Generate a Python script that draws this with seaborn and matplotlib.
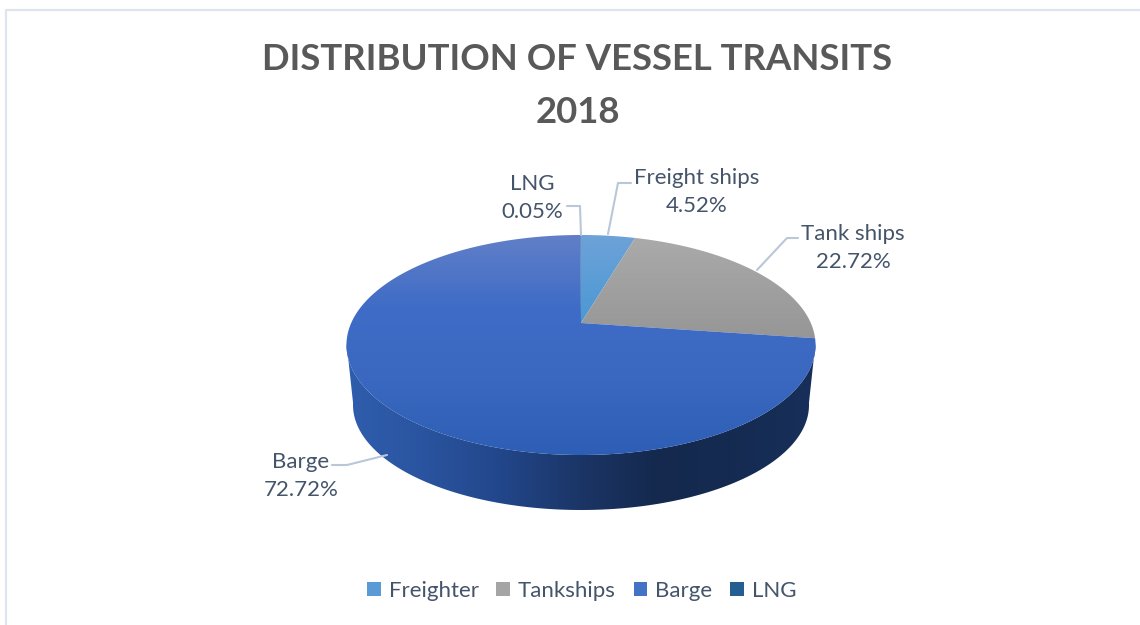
import numpy as np
import matplotlib
matplotlib.use("Agg")
import matplotlib.pyplot as plt
from matplotlib.colors import LinearSegmentedColormap
from matplotlib.patches import Patch, Polygon
import seaborn as sns

title_lines = ["DISTRIBUTION OF VESSEL TRANSITS", "2018"]
legend_names = ["Freighter", "Tankships", "Barge", "LNG"]
label_names = ["Freight ships", "Tank ships", "Barge", "LNG"]
shares = [4.52, 22.72, 72.72, 0.05]
legend_colors = ["#5b9bd5", "#a5a5a5", "#4472c4", "#255e91"]

sns.set_theme(style="white")
plt.rcParams["font.family"] = ["Lato", "DejaVu Sans"]

W, H = 1140, 625
fig = plt.figure(figsize=(W / 100, H / 100), dpi=100)
ax = fig.add_axes([0, 0, 1, 1])

# perspective disc layout (pixels)
APEX = (581, 323)
A, B, K = 229.8, 105.6, 0.2


def disc(theta):
    """Clockwise from 12 o'clock, circle -> tilted perspective view."""
    X, Y = np.sin(theta), np.cos(theta)
    d = 1 + K * Y
    return APEX[0] + A * X / d, APEX[1] - B * Y / d


def grad(colors, extent, vertical=True):
    cmap = LinearSegmentedColormap.from_list("g", sns.blend_palette(colors, 64))
    g = np.linspace(0, 1, 256)
    arr = g[:, None] if vertical else g[None, :]
    return ax.imshow(arr, cmap=cmap, extent=extent, aspect="auto",
                     origin="upper", zorder=2, interpolation="bilinear")


# side wall
t = np.linspace(-np.pi / 2 - 0.02, np.pi / 2 + 0.02, 200)
top_x = 581 + 234.5 * np.sin(t)
top_y = 345 + 110 * np.cos(t)
bot_x = 581 + 228 * np.sin(t)
bot_y = 405 + 105 * np.cos(t)
wall = np.r_[np.c_[top_x, top_y], np.c_[bot_x, bot_y][::-1]]
wall_poly = Polygon(wall, closed=True, transform=ax.transData, fc="none", ec="none")
ax.add_patch(wall_poly)
im = grad(["#2f5eae", "#2a549f", "#22468a", "#1b3566", "#14294d", "#152b52", "#172f5a"],
          (345, 816, 520, 340), vertical=False)
im.set_clip_path(wall_poly)

# top face, one gradient wedge per share
fractions = np.array(shares) / np.sum(shares)
edges = np.r_[0, np.cumsum(fractions)] * 2 * np.pi
faces = [
    (["#6fa3d8", "#4a98d4"], (230, 325)),
    (["#ababab", "#959595"], (232, 345)),
    (["#6280c8", "#3f6cc6", "#3a68c0", "#2d5db4"], (232, 458)),
    (["#2f5fa8", "#2f5fa8"], (232, 325)),
]
for a0, a1, (cols, (y0, y1)) in zip(edges[:-1], edges[1:], faces):
    th = np.linspace(a0, a1, max(4, int((a1 - a0) * 80)))
    x, y = disc(th)
    pts = np.r_[[APEX], np.c_[x, y]]
    poly = Polygon(pts, closed=True, fc="none", ec="none", transform=ax.transData)
    ax.add_patch(poly)
    im = grad(cols, (340, 820, y1, y0))
    im.set_clip_path(poly)

# leader lines
leaders = [
    ([608, 618, 631], [234, 183, 183]),
    ([757, 787, 798], [270, 238, 238]),
    ([387, 347, 332], [455, 465, 465]),
    ([581, 580, 567], [235, 206, 206]),
]
for lx, ly in leaders:
    ax.plot(lx, ly, color="#b9c7d8", lw=1.5, zorder=3, solid_joinstyle="round")

# data labels
label_pos = [(697, 192), (853, 247.5), (301, 476.5), (532, 198)]
for name, share, (px, py) in zip(label_names, shares, label_pos):
    ax.text(px, py, f"{name}\n{share:.2f}%", ha="center", va="center",
            fontsize=16, color="#44546a", linespacing=1.5, zorder=4)

# title
ax.text(577.5, 86, "\n".join(title_lines), ha="center", va="center", fontsize=26.3,
        fontweight="bold", color="#595959", linespacing=1.72)

# chart frame
ax.plot([6, 6, W], [H, 10, 10], color="#dfe4ee", lw=1.6, zorder=1)

handles = [Patch(fc=c, ec="none", label=n) for c, n in zip(legend_colors, legend_names)]
leg = ax.legend(handles=handles, loc="center", bbox_to_anchor=(581.5 / W, 1 - 591 / H),
                ncols=4, frameon=False, fontsize=16, labelcolor="#44546a",
                handlelength=0.62, handleheight=0.6, handletextpad=0.35,
                columnspacing=0.8)

ax.set_xlim(0, W)
ax.set_ylim(H, 0)
ax.axis("off")
fig.savefig("out.png", dpi=100, facecolor="white")
